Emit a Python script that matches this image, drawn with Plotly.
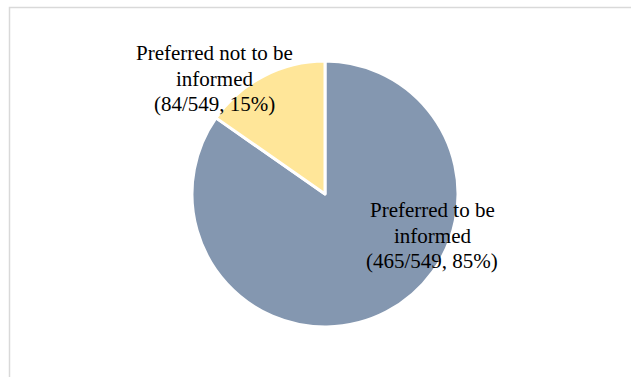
import plotly.graph_objects as go

categories = ["Preferred to be informed", "Preferred not to be informed"]
counts = [465, 84]
total = 549
label_lines = [["Preferred to be", "informed"], ["Preferred not to be", "informed"]]
colors = ["#8497B0", "#FFE699"]

W, H = 631, 377

fig = go.Figure()
fig.add_trace(go.Pie(
    labels=categories,
    values=counts,
    sort=False,
    direction="clockwise",
    rotation=0,
    marker=dict(colors=colors, line=dict(color="white", width=3)),
    textinfo="none",
    hoverinfo="label+value+percent",
    showlegend=False,
    domain=dict(x=[(325 - 133) / W, (325 + 133) / W], y=[1 - 327 / H, 1 - 61 / H]),
))

# label anchor (pixels): x centre, y of the first line centre; line pitch
label_pos = [(432, 210), (215, 53)]
pitch = 25.5
for lines, c, (px, py) in zip(label_lines, counts, label_pos):
    pct = round(100 * c / total)
    all_lines = lines + [f"({c}/{total}, {pct}%)"]
    for i, line in enumerate(all_lines):
        fig.add_annotation(
            x=px / W, y=1 - (py + i * pitch) / H, xref="paper", yref="paper",
            text=line, showarrow=False, align="center",
            xanchor="center", yanchor="middle",
            font=dict(family="Liberation Serif", size=21, color="black"),
        )

fig.add_shape(type="rect", xref="paper", yref="paper",
              x0=9.5 / W, x1=1.2, y0=-0.2, y1=1 - 7.5 / H,
              line=dict(color="#D9D9D9", width=1.5), fillcolor="rgba(0,0,0,0)")

fig.update_layout(
    width=W, height=H,
    margin=dict(l=0, r=0, t=0, b=0),
    paper_bgcolor="white", plot_bgcolor="white",
)
fig.write_html("out.html",
               config={"displayModeBar": False},
               post_script="document.body.style.margin='0';document.body.style.overflow='hidden';")
